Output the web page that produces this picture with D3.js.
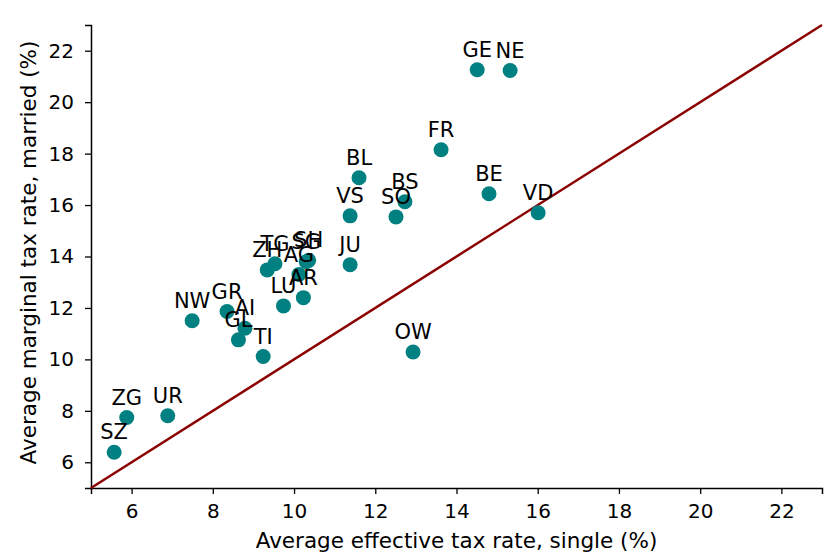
<!DOCTYPE html>
<html>
<head>
<meta charset="utf-8">
<script src="https://cdn.jsdelivr.net/npm/d3@7"></script>
<style>
  body { margin: 0; background: #fff; }
  text { font-family: "DejaVu Sans", sans-serif; fill: #000; }
</style>
</head>
<body>
<div id="vis"></div>
<script>
const margin = { top: 25, right: 10, bottom: 68, left: 91 };
const width = 832 - margin.left - margin.right;
const height = 556 - margin.top - margin.bottom;

// cantons, effective rate single (x), marginal rate married (y)
const cantons = ["GE", "NE", "FR", "BL", "BE", "VD", "BS", "SO", "VS", "JU",
    "OW", "ZG", "UR", "SZ", "NW", "GR", "AI", "GL", "TI", "LU",
    "AR", "ZH", "TG", "AG", "SG", "SH"];
const singleRate = [14.51, 15.32, 13.62, 11.60, 14.80, 16.01, 12.73, 12.51, 11.38, 11.38,
    12.93, 5.88, 6.89, 5.57, 7.49, 8.35, 8.79, 8.63, 9.24, 9.74,
    10.23, 9.34, 9.53, 10.12, 10.30, 10.36];
const marriedRate = [21.26, 21.23, 18.15, 17.06, 16.44, 15.70, 16.13, 15.54, 15.58, 13.68,
    10.29, 7.74, 7.81, 6.39, 11.50, 11.86, 11.21, 10.76, 10.11, 12.08,
    12.40, 13.48, 13.72, 13.30, 13.80, 13.85];
const xTicks = [6, 8, 10, 12, 14, 16, 18, 20, 22];
const yTicks = [6, 8, 10, 12, 14, 16, 18, 20, 22];

const data = cantons.map((c, i) => ({ canton: c, x: singleRate[i], y: marriedRate[i] }));

const svg = d3.select("#vis")
    .append("svg")
    .attr("width", width + margin.left + margin.right)
    .attr("height", height + margin.top + margin.bottom)
    .append("g")
    .attr("transform", `translate(${margin.left},${margin.top})`);

const xScale = d3.scaleLinear().domain([5, 23]).range([0, width]);
const yScale = d3.scaleLinear().domain([5, 23]).range([height, 0]);

const xAxis = svg.append("g")
    .attr("transform", `translate(0,${height})`)
    .call(d3.axisBottom(xScale).tickValues(xTicks).tickSize(6).tickPadding(10));

const yAxis = svg.append("g")
    .call(d3.axisLeft(yScale).tickValues(yTicks).tickSize(6).tickPadding(11));

[xAxis, yAxis].forEach(a => {
    a.selectAll("text").style("font-size", "20px").style("font-family", "DejaVu Sans");
    a.selectAll("line").attr("stroke", "#000").attr("stroke-width", 1.3);
    a.select(".domain").attr("stroke", "#000").attr("stroke-width", 1.5);
});

svg.append("text")
    .attr("x", width / 2)
    .attr("y", height + 60)
    .attr("text-anchor", "middle")
    .style("font-size", "21.5px")
    .text("Average effective tax rate, single (%)");

svg.append("text")
    .attr("transform", "rotate(-90)")
    .attr("x", -height / 2 + 4)
    .attr("y", -55)
    .attr("text-anchor", "middle")
    .style("font-size", "21.5px")
    .text("Average marginal tax rate, married (%)");

// 45 degree line
svg.append("line")
    .attr("x1", xScale(5))
    .attr("y1", yScale(5))
    .attr("x2", xScale(23))
    .attr("y2", yScale(23))
    .attr("stroke", "#8b0000")
    .attr("stroke-width", 2.5);

svg.selectAll(".points")
    .data(data)
    .enter()
    .append("circle")
    .attr("class", "points")
    .attr("cx", d => xScale(d.x))
    .attr("cy", d => yScale(d.y))
    .attr("r", 7.5)
    .style("fill", "#008080");

svg.selectAll(".labels")
    .data(data)
    .enter()
    .append("text")
    .attr("class", "labels")
    .attr("x", d => xScale(d.x))
    .attr("y", d => yScale(d.y) - 13)
    .attr("text-anchor", "middle")
    .style("font-size", "21px")
    .text(d => d.canton);
</script>
</body>
</html>
